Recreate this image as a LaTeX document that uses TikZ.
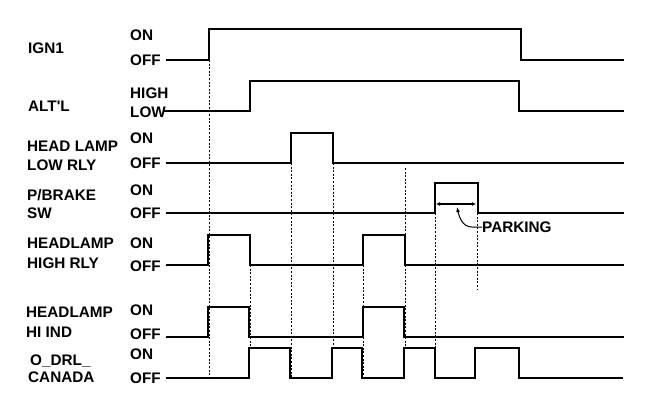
\documentclass[tikz,border=0pt]{standalone}
\usepackage{fontspec}
\setmainfont{Liberation Sans}
\usetikzlibrary{arrows.meta}
\begin{document}
\begin{tikzpicture}[x=1pt,y=-1pt,
  lbl/.style={anchor=base west,inner sep=0pt,font=\fontsize{15.3}{18}\selectfont\bfseries},
  sig/.style={line width=1.7pt,line join=miter},
  guide/.style={line width=0.6pt,dash pattern=on 2pt off 1.6pt},
  dim/.style={line width=1.5pt,{Latex[length=4pt,width=4pt]}-{Latex[length=4pt,width=4pt]}},
  callout/.style={line width=1pt,-{Latex[length=5pt,width=4pt]}}]
\useasboundingbox[fill=white] (0,0) rectangle (672,400);
% signal names
\node[lbl] (n1) at (28,53) {IGN1};
\node[lbl] (n2) at (28,111.5) {ALT\textquotesingle L};
\node[lbl] (n3a) at (27,151) {HEAD LAMP};
\node[lbl] (n3b) at (27,170) {LOW RLY};
\node[lbl] (n4a) at (27,200) {P/BRAKE};
\node[lbl] (n4b) at (27,218) {SW};
\node[lbl] (n5a) at (27,248) {HEADLAMP};
\node[lbl] (n5b) at (27,268) {HIGH RLY};
\node[lbl] (n6a) at (26,317) {HEADLAMP};
\node[lbl] (n6b) at (26,337) {HI IND};
\node[lbl] (n7a) at (30,365) {O\_DRL\_};
\node[lbl] (n7b) at (28,382) {CANADA};
% state labels
\node[lbl] (s1a) at (130,40) {ON};
\node[lbl] (s1b) at (130,65) {OFF};
\node[lbl] (s2a) at (130,98) {HIGH};
\node[lbl] (s2b) at (130,117) {LOW};
\node[lbl] (s3a) at (130,143) {ON};
\node[lbl] (s3b) at (130,168) {OFF};
\node[lbl] (s4a) at (130,195) {ON};
\node[lbl] (s4b) at (130,218) {OFF};
\node[lbl] (s5a) at (130,248) {ON};
\node[lbl] (s5b) at (130,271.5) {OFF};
\node[lbl] (s6a) at (130,315) {ON};
\node[lbl] (s6b) at (130,339) {OFF};
\node[lbl] (s7a) at (130,359) {ON};
\node[lbl] (s7b) at (130,383) {OFF};
% guide lines
\draw[guide] (209,60) -- (209,378);
\draw[guide] (250,265) -- (250,348);
\draw[guide] (291,163) -- (291,378);
\draw[guide] (333,163) -- (333,348);
\draw[guide] (363,265) -- (363,378);
\draw[guide] (405,168) -- (405,348);
\draw[guide] (435,213) -- (435,378);
\draw[guide] (477,213) -- (477,290);
% waveforms
\draw[sig] (166,60) -- (209,60) -- (209,29) -- (521,29) -- (521,60) -- (624,60);
\draw[sig] (164,111) -- (250,111) -- (250,81) -- (519,81) -- (519,111) -- (624,111);
\draw[sig] (166,163) -- (291,163) -- (291,133) -- (333,133) -- (333,163) -- (624,163);
\draw[sig] (166,213) -- (435,213) -- (435,183) -- (478,183) -- (478,213) -- (624,213);
\draw[sig] (166,265) -- (208,265) -- (208,235) -- (250,235) -- (250,265) -- (363,265) -- (363,235) -- (405,235) -- (405,265) -- (624,265);
\draw[sig] (166,337) -- (208,337) -- (208,307) -- (249,307) -- (249,337) -- (363,337) -- (363,307) -- (404,307) -- (404,337) -- (624,337);
\draw[sig] (166,378) -- (249,378) -- (249,348) -- (290,348) -- (290,378) -- (332,378) -- (332,348) -- (362,348) -- (362,378) -- (404,378) -- (404,348) -- (435,348) -- (435,378) -- (475,378) -- (475,348) -- (519,348) -- (519,378) -- (623,378);
% parking annotation
\coordinate (pl) at (436,204);
\coordinate (pr) at (476,204);
\draw[dim] (pl) -- (pr);
\node[lbl,anchor=west] (park) at (482,227) {PARKING};
\coordinate (ptip) at (457,207);
\draw[callout] (park.west) -- ++(-10,0) .. controls (462,227) and (459,216) .. (ptip);
\end{tikzpicture}
\end{document}
